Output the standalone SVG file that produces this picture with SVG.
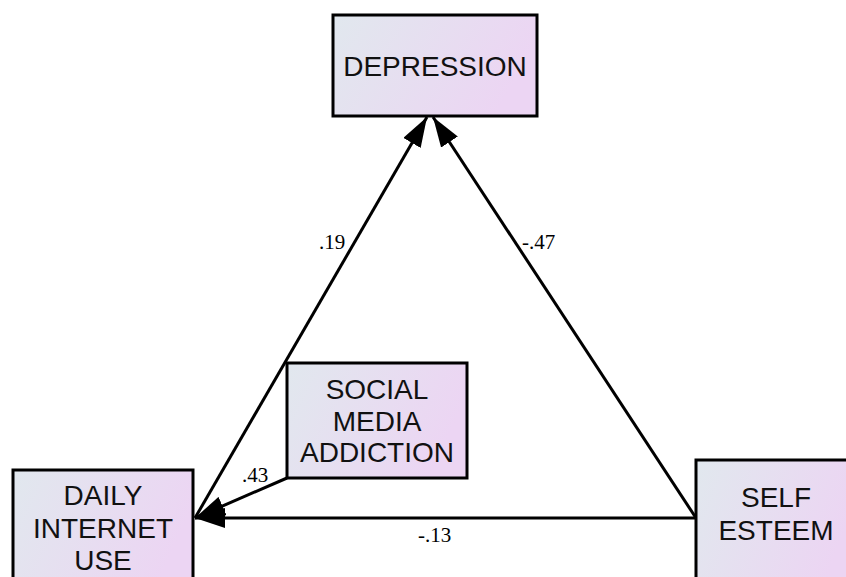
<svg xmlns="http://www.w3.org/2000/svg" width="846" height="577" viewBox="0 0 846 577">
<defs>
<linearGradient id="g" x1="0" y1="0" x2="1" y2="0.3">
<stop offset="0" stop-color="#e1e8ee"/>
<stop offset="1" stop-color="#ecd5f3"/>
</linearGradient>
<marker id="ah" viewBox="0 0 30 20" refX="30" refY="10" markerWidth="30" markerHeight="20" markerUnits="userSpaceOnUse" orient="auto">
<path d="M0,0 L30,10 L0,20 Z" fill="#000"/>
</marker>
<style>
.box{fill:url(#g);stroke:#000;stroke-width:3}
.t{font-family:"Liberation Sans",Arial,sans-serif;font-size:28px;fill:#111;text-anchor:middle}
.c{stroke:#000;stroke-width:3;fill:none;marker-end:url(#ah)}
.l{font-family:"Liberation Serif","Times New Roman",serif;font-size:21px;fill:#000}
</style>
</defs>
<rect width="846" height="577" fill="#fff"/>
<g id="connectors">
<line class="c" x1="195" y1="518" x2="427" y2="117"/>
<line class="c" x1="696" y1="518" x2="433" y2="117"/>
<line class="c" x1="287" y1="478" x2="195" y2="518"/>
<line class="c" x1="696" y1="518" x2="195" y2="518"/>
<text class="l" x="319" y="249">.19</text>
<text class="l" x="522" y="249">-.47</text>
<text class="l" x="242" y="482">.43</text>
<text class="l" x="418" y="542">-.13</text>
</g>
<g id="depression">
<rect class="box" x="333" y="15" width="204" height="101"/>
<text class="t" x="435" y="76">DEPRESSION</text>
</g>
<g id="social">
<rect class="box" x="287" y="363" width="180" height="115"/>
<text class="t" x="377" y="399">SOCIAL</text>
<text class="t" x="377" y="431">MEDIA</text>
<text class="t" x="377" y="462">ADDICTION</text>
</g>
<g id="daily">
<rect class="box" x="13" y="470" width="180" height="120"/>
<text class="t" x="103" y="505">DAILY</text>
<text class="t" x="103" y="538">INTERNET</text>
<text class="t" x="103" y="570">USE</text>
</g>
<g id="self">
<rect class="box" x="696" y="460" width="160" height="130"/>
<text class="t" x="776" y="507">SELF</text>
<text class="t" x="776" y="540">ESTEEM</text>
</g>
</svg>
